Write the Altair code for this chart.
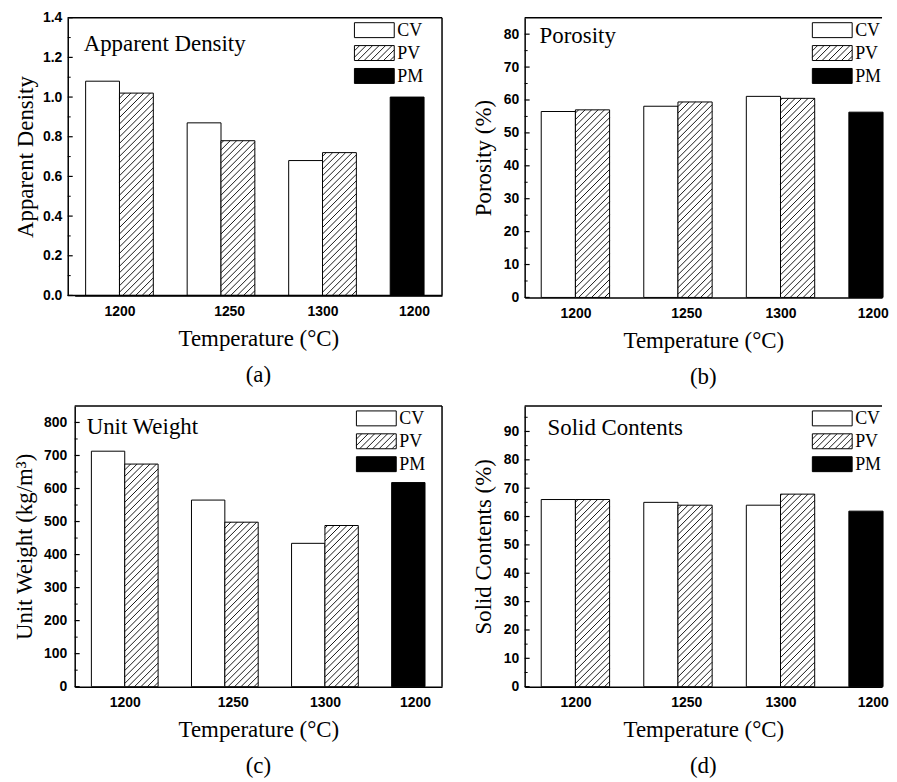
import altair as alt
import numpy as np
import pandas as pd

# ---------------- data ----------------
SERIES = ["CV", "PV", "PM"]
X_LABELS = ["1200", "1250", "1300", "1200"]
X_LABEL_POS = [0.0, 1.08, 2.0, 2.9]

density_cv = [1.08, 0.87, 0.68]
density_pv = [1.02, 0.78, 0.72]
density_pm = [1.00]

porosity_cv = [56.5, 58.1, 61.1]
porosity_pv = [57.0, 59.4, 60.5]
porosity_pm = [56.3]

weight_cv = [713, 565, 434]
weight_pv = [674, 498, 488]
weight_pm = [618]

solid_cv = [66.0, 65.0, 64.0]
solid_pv = [66.0, 64.0, 67.9]
solid_pm = [61.9]

density_major = [0.0, 0.2, 0.4, 0.6, 0.8, 1.0, 1.2, 1.4]
density_minor = [0.1, 0.3, 0.5, 0.7, 0.9, 1.1, 1.3]
porosity_major = [0, 10, 20, 30, 40, 50, 60, 70, 80]
porosity_minor = [5, 15, 25, 35, 45, 55, 65, 75]
weight_major = [0, 100, 200, 300, 400, 500, 600, 700, 800]
weight_minor = [50, 150, 250, 350, 450, 550, 650, 750]
solid_major = [0, 10, 20, 30, 40, 50, 60, 70, 80, 90]
solid_minor = [5, 15, 25, 35, 45, 55, 65, 75, 85, 95]

SERIF = "Liberation Serif"
SANS = "Liberation Sans"
ONE = pd.DataFrame({"k": [0]})


def bar_table(cv, pv, pm):
    rows = []
    for g, v in enumerate(cv):
        rows.append({"series": "CV", "g": g, "slot": 0, "y": v})
    for g, v in enumerate(pv):
        rows.append({"series": "PV", "g": g, "slot": 1, "y": v})
    for v in pm:
        rows.append({"series": "PM", "g": 3, "slot": 0, "y": v})
    df = pd.DataFrame(rows)
    df["x"] = df["g"] + (df["slot"] - 1) / 3.0
    df["x2"] = df["x"] + 1 / 3.0
    df["y0"] = 0.0
    return df


def hatch(x0, x1, y0, y1, kx, ky, step=6.5):
    w = (x1 - x0) * kx
    h = (y1 - y0) * ky
    out = []
    k0 = int(np.floor(-h / step)) - 1
    k1 = int(np.ceil(w / step)) + 1
    for k in range(k0, k1 + 1):
        c = k * step + step / 2
        u0 = max(0.0, c)
        u1 = min(w, c + h)
        if u1 - u0 < 0.8:
            continue
        out.append({"x": x0 + u0 / kx, "x2": x0 + u1 / kx,
                    "y": y0 + (u0 - c) / ky, "y2": y0 + (u1 - c) / ky})
    return out


def panel(cfg):
    W, H = cfg["w"], cfg["h"]
    xd, yd = cfg["xdom"], cfg["ydom"]
    off = cfg["yoff"]
    kx = W / (xd[1] - xd[0])
    ky = H / (yd[1] - yd[0])
    xscale = alt.Scale(domain=xd, nice=False, zero=False)
    yscale = alt.Scale(domain=yd, nice=False, zero=False)

    bars = bar_table(*cfg["data"])
    hrows = []
    for r in bars[bars.series == "PV"].itertuples():
        hrows += hatch(r.x, r.x2, 0.0, r.y, kx, ky)

    LX0 = cfg["lx"]
    LX1 = LX0 + 40
    sw = [(5, 20), (28, 43), (51, 66)]
    sx0 = xd[0] + LX0 / kx
    sx1 = xd[0] + LX1 / kx
    hrows += hatch(sx0, sx1, yd[1] - sw[1][1] / ky, yd[1] - sw[1][0] / ky, kx, ky)
    hdf = pd.DataFrame(hrows)

    label_expr = ("datum.value < 0.5 ? '%s' : datum.value < 1.5 ? '%s' : "
                  "datum.value < 2.5 ? '%s' : '%s'") % tuple(X_LABELS)

    xaxis = alt.Axis(values=X_LABEL_POS, labelExpr=label_expr, ticks=False, grid=False,
                     labelOverlap=False,
                     domainColor="black", domainWidth=1.5,
                     labelFont=SANS, labelFontWeight="bold", labelFontSize=14,
                     labelColor="black", labelPadding=9,
                     title="Temperature (°C)", titleFont=SERIF, titleFontSize=23,
                     titleFontWeight="normal", titleColor="black", titlePadding=9)
    yaxis = alt.Axis(values=cfg["major"], format=cfg["fmt"], ticks=False, grid=False,
                     labelOverlap=False, offset=off,
                     domainColor="black", domainWidth=1.5,
                     labelFont=SANS, labelFontWeight="bold", labelFontSize=14,
                     labelColor="black", labelPadding=cfg["lpad"],
                     title=cfg["ytitle"], titleFont=SERIF, titleFontSize=23,
                     titleFontWeight="normal", titleColor="black", titlePadding=cfg["tpad"])

    layers = []
    layers.append(
        alt.Chart(bars).mark_rect(stroke="black", strokeWidth=1).encode(
            x=alt.X("x:Q", scale=xscale, axis=xaxis),
            x2="x2:Q",
            y=alt.Y("y:Q", scale=yscale, axis=yaxis),
            y2="y0:Q",
            fill=alt.Fill("series:N", scale=alt.Scale(domain=SERIES, range=["white", "white", "black"]),
                          legend=None),
        )
    )
    layers.append(
        alt.Chart(hdf).mark_rule(color="black", strokeWidth=0.9).encode(
            x=alt.X("x:Q", scale=xscale, axis=xaxis), x2="x2:Q",
            y=alt.Y("y:Q", scale=yscale, axis=yaxis), y2="y2:Q",
        )
    )
    layers.append(
        alt.Chart(pd.DataFrame({"y": cfg["major"]})).mark_rule(color="black", strokeWidth=1.2).encode(
            y=alt.Y("y:Q", scale=yscale, axis=yaxis), x=alt.value(-off), x2=alt.value(5 - off)
        )
    )
    layers.append(
        alt.Chart(pd.DataFrame({"y": cfg["minor"]})).mark_rule(color="black", strokeWidth=1).encode(
            y=alt.Y("y:Q", scale=yscale, axis=yaxis), x=alt.value(-off), x2=alt.value(3 - off)
        )
    )
    # frame: top line (and bottom extension when the y axis is offset)
    layers.append(
        alt.Chart(ONE).mark_rule(color="black", strokeWidth=1.5).encode(
            x=alt.value(-off), x2=alt.value(W), y=alt.value(0)
        )
    )
    if off > 0:
        layers.append(
            alt.Chart(ONE).mark_rule(color="black", strokeWidth=1.5).encode(
                x=alt.value(-off), x2=alt.value(W), y=alt.value(H)
            )
        )
    if cfg["right"]:
        layers.append(
            alt.Chart(ONE).mark_rule(color="black", strokeWidth=1.5).encode(
                x=alt.value(W), y=alt.value(0), y2=alt.value(H)
            )
        )
    layers.append(
        alt.Chart(ONE).mark_text(align="left", baseline="middle", font=SERIF, fontSize=23,
                                 color="black").encode(
            x=alt.value(cfg["tx"]), y=alt.value(cfg["ty"]), text=alt.value(cfg["label"])
        )
    )
    fills = ["white", "transparent", "black"]
    for (y0, y1), name, f in zip(sw, SERIES, fills):
        layers.append(
            alt.Chart(ONE).mark_rect(fill=f, stroke="black", strokeWidth=1).encode(
                x=alt.value(LX0), x2=alt.value(LX1), y=alt.value(y0), y2=alt.value(y1)
            )
        )
        layers.append(
            alt.Chart(ONE).mark_text(align="left", baseline="middle", font=SERIF, fontSize=18,
                                     color="black").encode(
                x=alt.value(LX1 + 3), y=alt.value((y0 + y1) / 2 + 1), text=alt.value(name)
            )
        )

    return alt.layer(*layers).properties(
        width=W, height=H,
        title=alt.TitleParams(text=cfg["sub"], orient="bottom", anchor="middle", frame="group",
                              font=SERIF, fontSize=23, fontWeight="normal", color="black",
                              offset=cfg["soff"]),
    )


cfg_a = dict(w=369, h=279, xdom=[-0.441, 3.177], ydom=[0, 1.4], major=density_major,
             minor=density_minor, fmt=".1f", ytitle="Apparent Density", tpad=5, lpad=6, yoff=7,
             right=True, tx=9, ty=26, label="Apparent Density", sub="(a)", soff=14, lx=281,
             data=(density_cv, density_pv, density_pm))
cfg_b = dict(w=359, h=281, xdom=[-0.495, 2.99], ydom=[0, 85], major=porosity_major,
             minor=porosity_minor, fmt="d", ytitle="Porosity (%)", tpad=8, lpad=6, yoff=0,
             right=False, tx=15, ty=18, label="Porosity", sub="(b)", soff=14, lx=289,
             data=(porosity_cv, porosity_pv, porosity_pm))
cfg_c = dict(w=369, h=282, xdom=[-0.5, 3.17], ydom=[0, 850], major=weight_major,
             minor=weight_minor, fmt="d", ytitle="Unit Weight (kg/m³)", tpad=7, lpad=8, yoff=0,
             right=True, tx=12, ty=21, label="Unit Weight", sub="(c)", soff=14, lx=283,
             data=(weight_cv, weight_pv, weight_pm))
cfg_d = dict(w=359, h=282, xdom=[-0.495, 2.99], ydom=[0, 99], major=solid_major,
             minor=solid_minor, fmt="d", ytitle="Solid Contents (%)", tpad=8, lpad=6, yoff=0,
             right=False, tx=23, ty=22, label="Solid Contents", sub="(d)", soff=14, lx=289,
             data=(solid_cv, solid_pv, solid_pm))

row1 = alt.hconcat(panel(cfg_a), panel(cfg_b), spacing=83, bounds="flush")
row2 = alt.hconcat(panel(cfg_c), panel(cfg_d), spacing=83, bounds="flush")

chart = alt.concat(row1, row2, columns=1, align="none", spacing=14).properties(
    padding={"left": 5, "top": 0, "right": 0, "bottom": 0}
).configure_view(stroke="transparent")

chart.save("out.html", embed_options={"renderer": "svg", "actions": False})
